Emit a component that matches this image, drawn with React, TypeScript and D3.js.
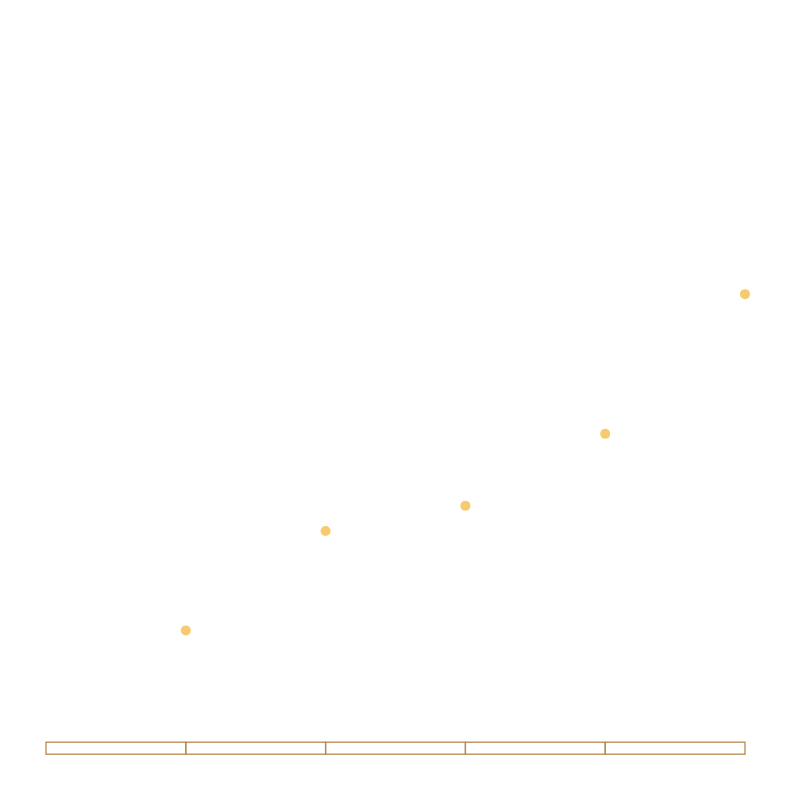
import * as d3 from "d3";
import { useEffect, useRef } from "react";

const steps = [1, 2, 3, 4, 5];
const values = [15.5, 29.3, 32.8, 42.8, 62.2];

export default function App() {
  const ref = useRef<SVGSVGElement>(null);

  useEffect(() => {
    if (!ref.current) return;
    const svg = d3.select(ref.current);
    svg.selectAll("*").remove();

    const width = 786;
    const height = 786;
    svg.attr("width", width).attr("height", height);

    const x = d3.scaleLinear().domain([0, 5]).range([46, 745]);
    const y = d3.scaleLinear().domain([0, 100]).range([742, 22]);

    // strip of cells along the bottom
    svg
      .append("g")
      .selectAll("rect")
      .data(steps)
      .join("rect")
      .attr("x", (d) => x(d - 1))
      .attr("y", 742.2)
      .attr("width", (d) => x(d) - x(d - 1))
      .attr("height", 12)
      .attr("fill", "none")
      .attr("stroke", "#b8894f")
      .attr("stroke-width", 1.3);

    svg
      .append("g")
      .selectAll("circle")
      .data(steps)
      .join("circle")
      .attr("cx", (d) => x(d))
      .attr("cy", (_, i) => y(values[i]))
      .attr("r", 5)
      .attr("fill", "#f8ca70");
  }, []);

  return (
    <svg
      ref={ref}
      style={{ position: "absolute", left: 0, top: 0, display: "block", background: "#fff" }}
    />
  );
}
